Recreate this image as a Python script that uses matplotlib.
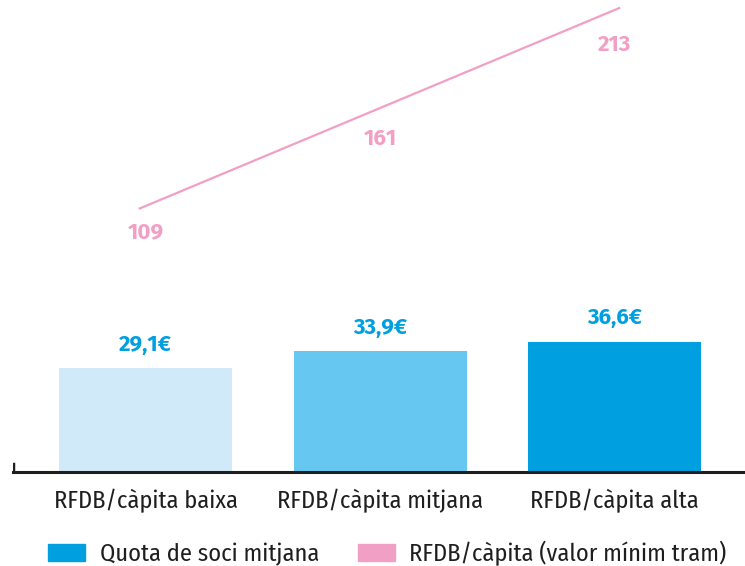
import matplotlib
matplotlib.use("Agg")
import matplotlib.pyplot as plt
from matplotlib.patches import Patch

categories = ["RFDB/càpita baixa", "RFDB/càpita mitjana", "RFDB/càpita alta"]
quota = [29.1, 33.9, 36.6]
quota_labels = ["29,1€", "33,9€", "36,6€"]
rfdb = [109, 161, 213]
rfdb_labels = ["109", "161", "213"]
series_names = ["Quota de soci mitjana", "RFDB/càpita (valor mínim tram)"]

bar_colors = ["#D0EAFA", "#66C8F1", "#009FE0"]
blue = "#009FE0"
pink = "#F29FC5"
dark = "#1E1E1E"

FAM = ["Fira Sans Condensed", "DejaVu Sans"]
LBL = ["Fira Sans", "DejaVu Sans"]
plt.rcParams["font.family"] = FAM

W, H = 745, 566
fig = plt.figure(figsize=(W / 100, H / 100), dpi=100)
rect = [13 / W, (H - 472) / H, (745 - 13) / W, 472 / H]

# bars
ax = fig.add_axes(rect)
x = list(range(len(categories)))
ax.bar(x, quota, width=0.738, color=bar_colors, zorder=2)
ax.set_xlim(-0.565, 2.556)
ax.set_ylim(0, 132.5)
for xi, v, lab in zip(x, quota, quota_labels):
    ax.annotate(lab, (xi, v), xytext=(0, 12.5), textcoords="offset points",
                ha="center", va="baseline", color=blue, fontsize=16,
                fontweight="bold", family=LBL)

for s in ["top", "right", "left"]:
    ax.spines[s].set_visible(False)
ax.spines["bottom"].set_linewidth(2.2)
ax.spines["bottom"].set_color(dark)
ax.axvline(-0.565, ymin=0, ymax=8 / 472, color=dark, lw=2.5)
ax.set_yticks([])
ax.set_xticks(x)
ax.set_xticklabels(categories, fontsize=17.5, color=dark)
ax.tick_params(axis="x", length=0, pad=12)

# line
axl = fig.add_axes(rect, facecolor="none")
axl.plot(x, rfdb, color=pink, lw=1.6)
axl.set_xlim(-0.529, 2.525)
axl.set_ylim(-27.8, 217.2)
axl.axis("off")

# line value labels
axt = ax.twinx()
axt.set_ylim(-23.9, 238.0)
axt.set_yticks([])
for s in axt.spines.values():
    s.set_visible(False)
for xi, v, lab in zip(x, rfdb, rfdb_labels):
    axt.text(xi, v, lab, ha="center", va="center", color=pink, fontsize=16,
             fontweight="bold", family=LBL)

handles = [Patch(color=blue), Patch(color=pink)]
fig.legend(handles, series_names, loc="center", bbox_to_anchor=(0.52, 0.022),
           ncol=2, frameon=False, fontsize=17.5, handlelength=1.52, handleheight=0.7,
           columnspacing=1.6, handletextpad=0.6, labelcolor=dark,
           borderpad=0, borderaxespad=0)

fig.savefig("out.png", dpi=100)
